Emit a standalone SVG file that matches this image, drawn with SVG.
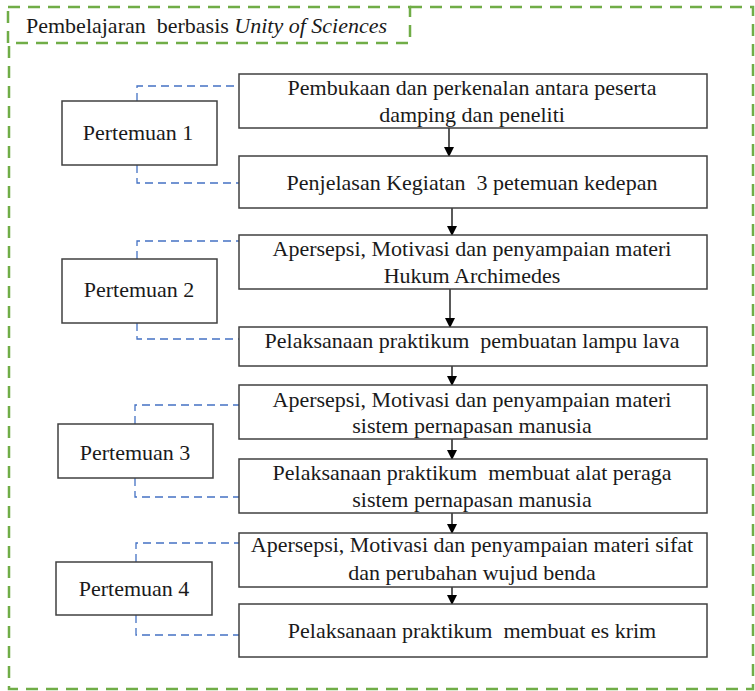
<svg xmlns="http://www.w3.org/2000/svg" width="755" height="691" viewBox="0 0 755 691">
<style>
  .frame{fill:none;stroke:#70AD47;stroke-width:2.5;stroke-dasharray:12 8}
  .box{fill:#fff;stroke:#404040;stroke-width:1.5}
  .t{font-family:'Liberation Serif','Times New Roman',serif;font-size:22px;fill:#1a1a1a;text-anchor:middle;white-space:pre}
  .tl{font-family:'Liberation Serif','Times New Roman',serif;font-size:22px;fill:#1a1a1a;white-space:pre}
  .dash{fill:none;stroke:#4472C4;stroke-width:1.3;stroke-dasharray:8 5}
  .arr{fill:none;stroke:#000;stroke-width:1.3;marker-end:url(#ah)}
</style>
<defs>
  <marker id="ah" markerWidth="10" markerHeight="10" refX="9" refY="5" orient="auto" markerUnits="userSpaceOnUse">
    <path d="M0,0 L10,5 L0,10 Z" fill="#000"/>
  </marker>
</defs>
<rect width="755" height="691" fill="#fff"/>
<g id="frame">
  <path class="frame" d="M410,7 H753 V689 H9 V43"/>
</g>
<g id="title">
  <rect class="frame" x="8" y="7" width="402" height="36"/>
  <text class="tl" x="26" y="33">Pembelajaran  berbasis <tspan font-style="italic">Unity of Sciences</tspan></text>
</g>
<g id="connectors">
  <path class="dash" d="M137,101 V86 H239"/>
  <path class="dash" d="M137,165 V183 H239"/>
  <path class="dash" d="M137,259 V241 H239"/>
  <path class="dash" d="M137,323 V339 H239"/>
  <path class="dash" d="M135,424 V405 H239"/>
  <path class="dash" d="M135,478 V497 H239"/>
  <path class="dash" d="M136,562 V543 H239"/>
  <path class="dash" d="M136,615 V635 H239"/>
  <path class="arr" d="M449,128 V156"/>
  <path class="arr" d="M452,208 V235"/>
  <path class="arr" d="M450,289 V327"/>
  <path class="arr" d="M452,366 V385"/>
  <path class="arr" d="M452,439 V459"/>
  <path class="arr" d="M452,513 V533"/>
  <path class="arr" d="M452,587 V604"/>
</g>
<g id="p1">
  <rect class="box" x="62" y="101" width="155" height="64"/>
  <text class="t" x="138" y="140">Pertemuan 1</text>
</g>
<g id="s1">
  <rect class="box" x="239" y="74" width="468" height="54"/>
  <text class="t" x="472" y="95">Pembukaan dan perkenalan antara peserta</text>
  <text class="t" x="472" y="122">damping dan peneliti</text>
</g>
<g id="s2">
  <rect class="box" x="239" y="156" width="468" height="52"/>
  <text class="t" x="472" y="190">Penjelasan Kegiatan  3 petemuan kedepan</text>
</g>
<g id="p2">
  <rect class="box" x="62" y="259" width="155" height="64"/>
  <text class="t" x="139" y="297">Pertemuan 2</text>
</g>
<g id="s3">
  <rect class="box" x="239" y="235" width="468" height="54"/>
  <text class="t" x="472" y="256">Apersepsi, Motivasi dan penyampaian materi</text>
  <text class="t" x="472" y="283">Hukum Archimedes</text>
</g>
<g id="s4">
  <rect class="box" x="239" y="327" width="468" height="39"/>
  <text class="t" x="472" y="348">Pelaksanaan praktikum  pembuatan lampu lava</text>
</g>
<g id="p3">
  <rect class="box" x="58" y="424" width="155" height="54"/>
  <text class="t" x="135" y="460">Pertemuan 3</text>
</g>
<g id="s5">
  <rect class="box" x="239" y="385" width="468" height="54"/>
  <text class="t" x="472" y="407">Apersepsi, Motivasi dan penyampaian materi</text>
  <text class="t" x="472" y="433">sistem pernapasan manusia</text>
</g>
<g id="s6">
  <rect class="box" x="239" y="459" width="468" height="54"/>
  <text class="t" x="472" y="480">Pelaksanaan praktikum  membuat alat peraga</text>
  <text class="t" x="472" y="507">sistem pernapasan manusia</text>
</g>
<g id="p4">
  <rect class="box" x="56" y="562" width="156" height="53"/>
  <text class="t" x="134" y="596">Pertemuan 4</text>
</g>
<g id="s7">
  <rect class="box" x="239" y="533" width="468" height="54"/>
  <text class="t" x="472" y="552">Apersepsi, Motivasi dan penyampaian materi sifat</text>
  <text class="t" x="472" y="580">dan perubahan wujud benda</text>
</g>
<g id="s8">
  <rect class="box" x="239" y="604" width="468" height="53"/>
  <text class="t" x="472" y="638">Pelaksanaan praktikum  membuat es krim</text>
</g>
</svg>
